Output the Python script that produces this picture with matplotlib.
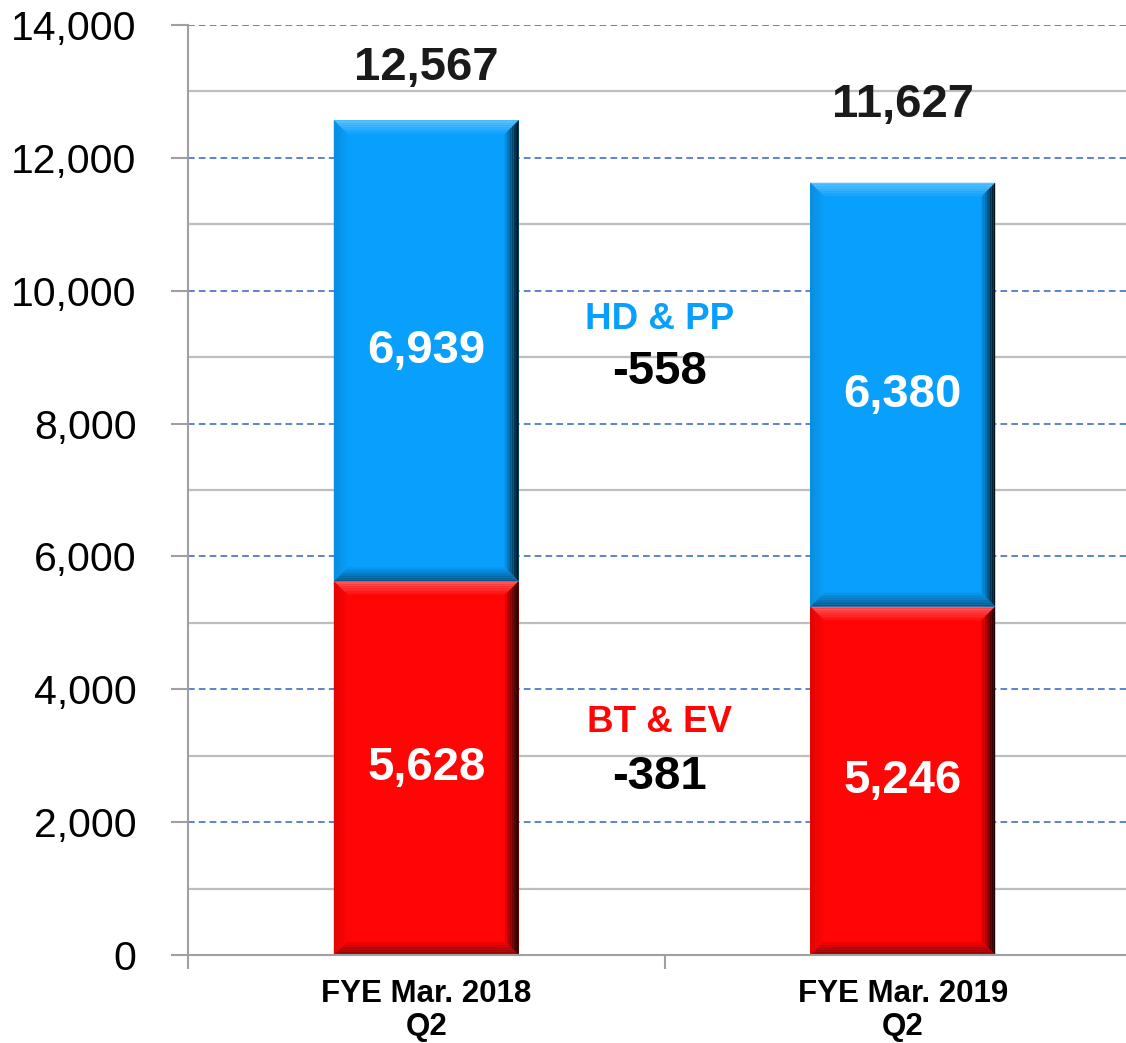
import numpy as np
import matplotlib.pyplot as plt
from matplotlib.patches import Polygon
from matplotlib.colors import to_rgb

# data
categories = ['FYE Mar. 2018\nQ2', 'FYE Mar. 2019\nQ2']
bt_ev = [5628, 5246]
hd_pp = [6939, 6380]
totals = [12567, 11627]
total_label_y = [13350, 12800]
seg_names = ['BT & EV', 'HD & PP']
seg_deltas = ['-381', '-558']
seg_name_y = [3507, 9560]
seg_delta_y = [2680, 8780]

red = '#FF0505'
blue = '#08A0FC'

plt.rcParams['font.family'] = ['Liberation Sans', 'DejaVu Sans']

fig = plt.figure(figsize=(11.26, 10.43), dpi=100)
ax = fig.add_axes([188 / 1126, 88 / 1043, 953 / 1126, 930 / 1043])
ax.set_xlim(-0.5, 1.5)
ax.set_ylim(0, 14000)

x = np.arange(len(categories))
w = 0.388
b1 = ax.bar(x, bt_ev, w, color=red, zorder=3)
b2 = ax.bar(x, hd_pp, w, bottom=bt_ev, color=blue, zorder=3)


def mix(c, other, t):
    c = np.array(to_rgb(c))
    o = np.array(to_rgb(other))
    return tuple(c * (1 - t) + o * t)


def bevel(rect, face, px=14, n=8):
    # fake 3d bevel drawn from the bar geometry
    x0, y0 = rect.get_x(), rect.get_y()
    x1, y1 = x0 + rect.get_width(), y0 + rect.get_height()
    p0 = ax.transData.transform((0, 0))
    p1 = ax.transData.transform((1, 1))
    dx = px / (p1[0] - p0[0])
    dy = px / (p1[1] - p0[1])
    edges = {
        'top': mix(face, 'white', 0.35),
        'right': mix(face, 'black', 0.9),
        'bottom': mix(face, 'black', 0.45),
        'left': mix(face, 'black', 0.12),
    }
    for i in range(n):
        a, c = i / n, (i + 1) / n
        ax0, ay0, ax1, ay1 = x0 + a * dx, y0 + a * dy, x1 - a * dx, y1 - a * dy
        cx0, cy0, cx1, cy1 = x0 + c * dx, y0 + c * dy, x1 - c * dx, y1 - c * dy
        quads = {
            'top': [(ax0, ay1), (ax1, ay1), (cx1, cy1), (cx0, cy1)],
            'right': [(ax1, ay0), (ax1, ay1), (cx1, cy1), (cx1, cy0)],
            'bottom': [(ax0, ay0), (ax1, ay0), (cx1, cy0), (cx0, cy0)],
            'left': [(ax0, ay0), (ax0, ay1), (cx0, cy1), (cx0, cy0)],
        }
        for side, pts in quads.items():
            col = mix(edges[side], face, a)
            ax.add_patch(Polygon(pts, closed=True, facecolor=col,
                                 edgecolor='none', zorder=4))


for r in b1:
    bevel(r, red)
for r in b2:
    bevel(r, blue)

# labels
for i in range(len(categories)):
    ax.text(x[i], bt_ev[i] / 2, f'{bt_ev[i]:,}', ha='center', va='center',
            color='white', fontsize=34, fontweight='bold', zorder=5)
    ax.text(x[i], bt_ev[i] + hd_pp[i] / 2, f'{hd_pp[i]:,}', ha='center',
            va='center', color='white', fontsize=34, fontweight='bold', zorder=5)
    ax.text(x[i], total_label_y[i], f'{totals[i]:,}', ha='center', va='center',
            color='#1a1a1a', fontsize=34, fontweight='bold', zorder=5)

name_colors = [red, blue]
for j in range(2):
    ax.text(0.49, seg_name_y[j], seg_names[j], ha='center', va='center',
            color=name_colors[j], fontsize=26.5, fontweight='bold')
    ax.text(0.49, seg_delta_y[j], seg_deltas[j], ha='center', va='center',
            color='black', fontsize=34, fontweight='bold')

# grid
for v in range(2000, 14001, 2000):
    ax.axhline(v, color='#3F6FC6', lw=1.2, ls=(0, (4, 2.5)), zorder=1)
for v in range(1000, 14000, 2000):
    ax.axhline(v, color='#BEBEBE', lw=1.6, zorder=1)

ax.set_yticks(range(0, 14001, 2000))
ax.set_yticklabels([f'{v:,}' for v in range(0, 14001, 2000)], fontsize=29.5)
ax.tick_params(axis='y', length=12, width=1.5, color='#A0A0A0', pad=25)

ax.set_xticks(x)
ax.set_xticklabels(categories, fontsize=22.5, fontweight='bold', linespacing=1.15)
ax.set_xticks([-0.5, 0.5, 1.5], minor=True)
ax.tick_params(axis='x', which='major', length=0, pad=17)
ax.tick_params(axis='x', which='minor', length=10, width=1.5, color='#A0A0A0')

for s in ['top', 'right']:
    ax.spines[s].set_visible(False)
for s in ['left', 'bottom']:
    ax.spines[s].set_color('#A0A0A0')
    ax.spines[s].set_linewidth(1.5)
    ax.spines[s].set_zorder(6)

fig.savefig('out.png', dpi=100)
